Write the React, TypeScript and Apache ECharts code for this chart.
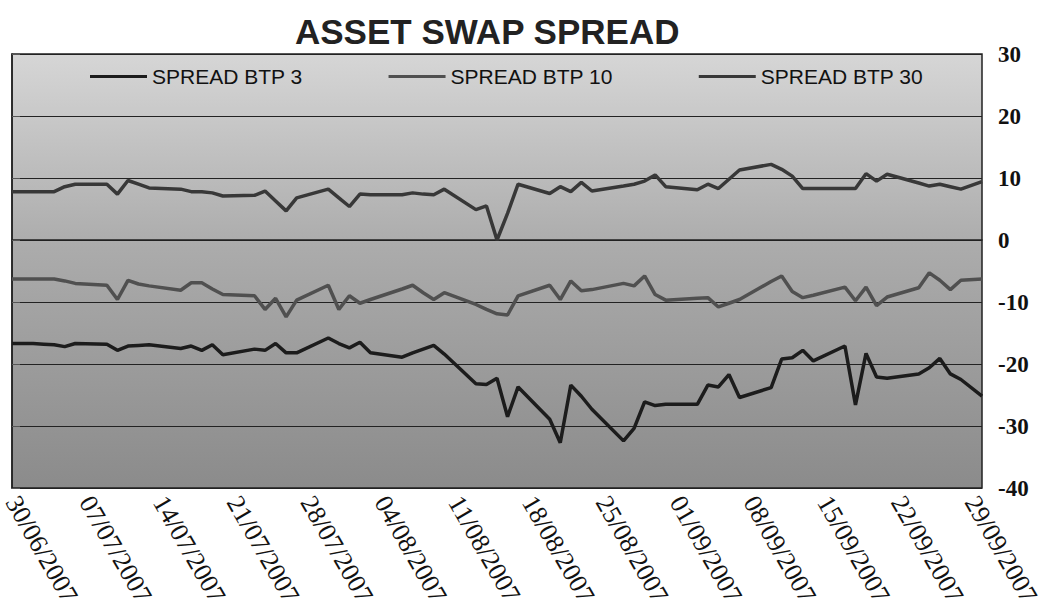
import React, { useEffect, useRef } from "react";
import * as echarts from "echarts";

// Trading dates (dd/mm/yyyy)
const dates: string[] = [
  "30/06/2007",
  "02/07/2007", "03/07/2007", "04/07/2007", "05/07/2007", "06/07/2007",
  "09/07/2007", "10/07/2007", "11/07/2007", "12/07/2007", "13/07/2007",
  "16/07/2007", "17/07/2007", "18/07/2007", "19/07/2007", "20/07/2007",
  "23/07/2007", "24/07/2007", "25/07/2007", "26/07/2007", "27/07/2007",
  "30/07/2007", "31/07/2007", "01/08/2007", "02/08/2007", "03/08/2007",
  "06/08/2007", "07/08/2007", "08/08/2007", "09/08/2007", "10/08/2007",
  "13/08/2007", "14/08/2007", "15/08/2007", "16/08/2007", "17/08/2007",
  "20/08/2007", "21/08/2007", "22/08/2007", "23/08/2007", "24/08/2007",
  "27/08/2007", "28/08/2007", "29/08/2007", "30/08/2007", "31/08/2007",
  "03/09/2007", "04/09/2007", "05/09/2007", "06/09/2007", "07/09/2007",
  "10/09/2007", "11/09/2007", "12/09/2007", "13/09/2007", "14/09/2007",
  "17/09/2007", "18/09/2007", "19/09/2007", "20/09/2007", "21/09/2007",
  "24/09/2007", "25/09/2007", "26/09/2007", "27/09/2007", "28/09/2007",
  "30/09/2007",
];

const btp3: number[] = [
  -16.7,
  -16.7, -16.8, -16.9, -17.2, -16.7,
  -16.8, -17.8, -17.1, -17.0, -16.9,
  -17.5, -17.1, -17.8, -16.9, -18.5,
  -17.6, -17.8, -16.7, -18.2, -18.2,
  -15.8, -16.7, -17.4, -16.5, -18.2,
  -18.9, -18.2, -17.6, -17.0, -18.4,
  -23.2, -23.3, -22.3, -28.5, -23.7,
  -28.9, -32.7, -23.4, -25.2, -27.3,
  -32.4, -30.4, -26.1, -26.7, -26.5,
  -26.5, -23.4, -23.7, -21.7, -25.4,
  -23.8, -19.2, -19.0, -17.8, -19.5,
  -17.1, -26.6, -18.3, -22.1, -22.3,
  -21.6, -20.6, -19.1, -21.6, -22.5,
  -25.2,
];

const btp10: number[] = [
  -6.3,
  -6.3, -6.3, -6.3, -6.6, -7.0,
  -7.3, -9.6, -6.5, -7.1, -7.4,
  -8.1, -6.9, -6.9, -7.9, -8.8,
  -9.0, -11.2, -9.4, -12.4, -9.7,
  -7.3, -11.2, -9.0, -10.2, -9.6,
  -7.9, -7.3, -8.5, -9.6, -8.5,
  -10.4, -11.2, -11.9, -12.1, -9.0,
  -7.3, -9.6, -6.6, -8.2, -8.0,
  -7.0, -7.4, -5.8, -8.8, -9.7,
  -9.4, -9.3, -10.8, -10.2, -9.6,
  -6.7, -5.8, -8.3, -9.3, -8.9,
  -7.6, -9.8, -7.6, -10.6, -9.2,
  -7.7, -5.3, -6.5, -8.0, -6.5,
  -6.3,
];

const btp30: number[] = [
  7.8,
  7.8, 7.8, 7.8, 8.6, 9.0,
  9.0, 7.4, 9.6, 9.0, 8.4,
  8.2, 7.8, 7.8, 7.6, 7.1,
  7.2, 7.9, 6.3, 4.7, 6.8,
  8.2, 6.8, 5.4, 7.4, 7.3,
  7.3, 7.6, 7.4, 7.3, 8.2,
  4.9, 5.5, 0.0, 4.3, 9.0,
  7.5, 8.6, 7.8, 9.3, 7.9,
  8.7, 9.0, 9.5, 10.5, 8.6,
  8.1, 9.0, 8.3, 9.8, 11.3,
  12.2, 11.4, 10.3, 8.3, 8.3,
  8.3, 8.3, 10.7, 9.5, 10.6,
  9.2, 8.7, 9.0, 8.6, 8.2,
  9.4,
];

const seriesNames: string[] = ["SPREAD BTP 3", "SPREAD BTP 10", "SPREAD BTP 30"];
const yTicks: number[] = [-40, -30, -20, -10, 0, 10, 20, 30];

const START = Date.UTC(2007, 5, 30);
const DAY = 86400000;
const LAST_TICK_DAY = 91; // 29/09/2007

function dayIndex(s: string): number {
  const [d, m, y] = s.split("/").map(Number);
  return Math.round((Date.UTC(y, m - 1, d) - START) / DAY);
}
function fmt(idx: number): string {
  const dt = new Date(START + idx * DAY);
  const dd = String(dt.getUTCDate()).padStart(2, "0");
  const mm = String(dt.getUTCMonth() + 1).padStart(2, "0");
  return `${dd}/${mm}/${dt.getUTCFullYear()}`;
}

export default function App() {
  const ref = useRef<HTMLDivElement>(null);
  useEffect(() => {
    document.body.style.margin = "0";
    const chart = echarts.init(ref.current!, null, { renderer: "svg" });
    const toPairs = (vals: number[]) => dates.map((d, i) => [dayIndex(d), vals[i]]);
    const colors = ["#1c1c1c", "#505050", "#383838"];
    const vals = [btp3, btp10, btp30];
    chart.setOption({
      animation: false,
      backgroundColor: "#ffffff",
      title: {
        text: "ASSET SWAP SPREAD",
        left: 290,
        top: 9,
        textStyle: {
          fontFamily: "Liberation Sans",
          fontWeight: "bold",
          fontSize: 35,
          color: "#222",
        },
      },
      legend: {
        left: 85,
        top: 61,
        itemWidth: 57,
        itemHeight: 14,
        itemGap: 86,
        icon: "path://M0,6 L57,6 L57,9 L0,9 Z",
        data: seriesNames,
        textStyle: {
          fontFamily: "Liberation Sans",
          fontSize: 21,
          color: "#111",
        },
      },
      grid: {
        left: 12,
        right: 61,
        top: 54,
        bottom: 126,
        containLabel: false,
        outerBoundsMode: "none",
        show: true,
        borderColor: "#222",
        borderWidth: 1.5,
        backgroundColor: {
          type: "linear",
          x: 0,
          y: 0,
          x2: 0,
          y2: 1,
          colorStops: [
            { offset: 0, color: "#d6d6d6" },
            { offset: 0.45, color: "#ababab" },
            { offset: 1, color: "#8b8b8b" },
          ],
        },
      },
      xAxis: {
        type: "value",
        min: 0,
        max: 92,
        interval: 7,
        axisLine: { show: true, lineStyle: { color: "#222", width: 1.5 } },
        axisTick: { show: false },
        splitLine: { show: false },
        axisLabel: {
          rotate: -60,
          margin: 10,
          showMaxLabel: false,
          fontFamily: "Liberation Serif",
          fontSize: 26,
          color: "#111",
          formatter: (v: number) => (v % 7 === 0 && v <= LAST_TICK_DAY ? fmt(v) : ""),
        },
      },
      yAxis: {
        type: "value",
        position: "right",
        min: yTicks[0],
        max: yTicks[yTicks.length - 1],
        interval: 10,
        axisLine: { show: true, lineStyle: { color: "#222", width: 1.5 } },
        axisTick: { show: true, length: 8, lineStyle: { color: "#555" } },
        splitLine: { show: true, lineStyle: { color: "#222", width: 1 } },
        axisLabel: {
          margin: 16,
          fontFamily: "Liberation Serif",
          fontWeight: "bold",
          fontSize: 23,
          color: "#111",
        },
      },
      series: seriesNames.map((name, i) => ({
        name,
        type: "line",
        data: toPairs(vals[i]),
        symbol: "none",
        lineStyle: { color: colors[i], width: 3.5 },
        itemStyle: { color: colors[i] },
      })),
    });
    return () => chart.dispose();
  }, []);
  return (
    <div
      ref={ref}
      style={{ position: "absolute", left: 0, top: 0, width: 1043, height: 614 }}
    />
  );
}
